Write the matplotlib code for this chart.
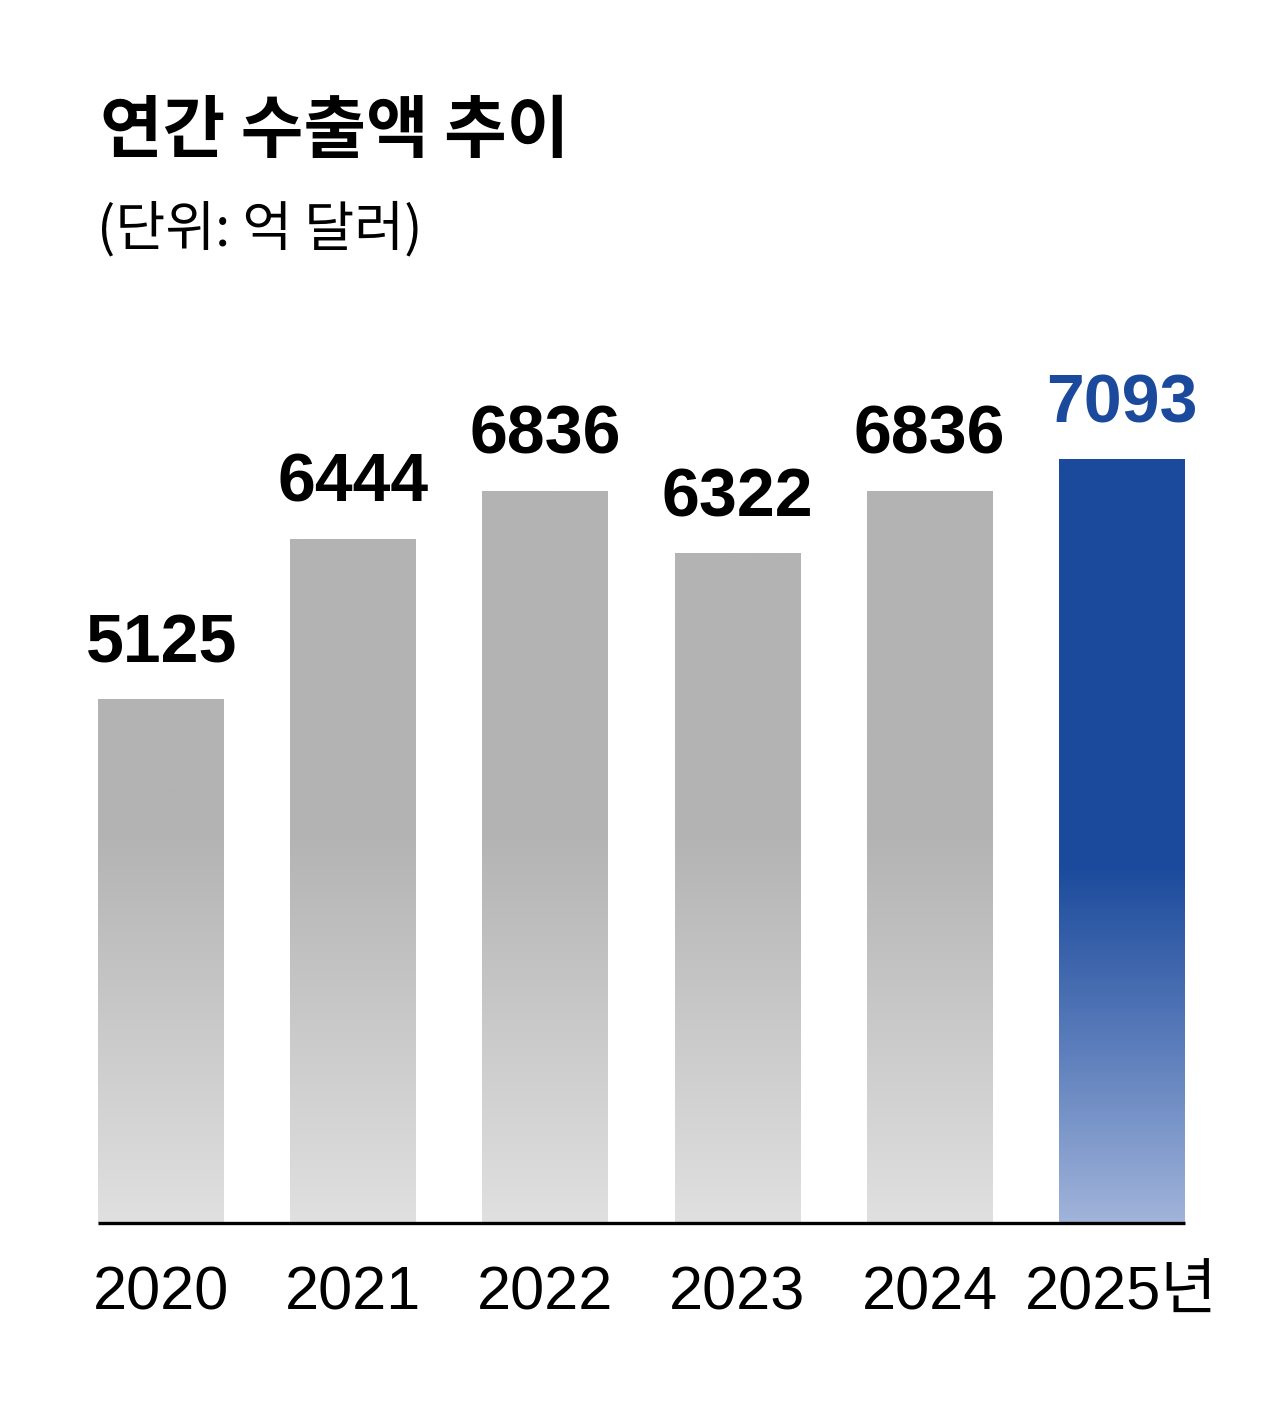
import numpy as np
import matplotlib
matplotlib.use("Agg")
import matplotlib.pyplot as plt
from matplotlib.colors import LinearSegmentedColormap

years = ["2020", "2021", "2022", "2023", "2024", "2025년"]
values = [5125, 6444, 6836, 6322, 6836, 7093]
title = "연간 수출액 추이"
subtitle = "(단위: 억 달러)"

W, H = 1276, 1417
fig = plt.figure(figsize=(W / 100, H / 100), dpi=100)
fam = ["Liberation Sans", "Noto Sans CJK KR", "DejaVu Sans"]

ax_left, ax_right = 98, 1185
ax_bottom_px, ax_top_px = 1223, 300
ax = fig.add_axes([ax_left / W, (H - ax_bottom_px) / H,
                   (ax_right - ax_left) / W, (ax_bottom_px - ax_top_px) / H])
ymin = 838
ymax = ymin + (ax_bottom_px - ax_top_px) / 0.122
ax.set_xlim(-0.33, 5.33)
ax.set_ylim(ymin, ymax)
ax.axis("off")

width = 0.656
grey_cmap = LinearSegmentedColormap.from_list("g", [(0, "#e0e0e0"), (1, "#b3b3b3")])
blue_cmap = LinearSegmentedColormap.from_list("b", [(0, "#a1b4da"), (0.5, "#5a7cba"), (1, "#1b4a9c")])
grey_mid = ymin + (1223 - 830) / 0.122
blue_mid = ymin + (1223 - 865) / 0.122

for i, (yr, v) in enumerate(zip(years, values)):
    last = i == len(values) - 1
    cmap = blue_cmap if last else grey_cmap
    mid = blue_mid if last else grey_mid
    ys = np.linspace(ymin, v, 400)
    t = np.clip((ys - ymin) / (mid - ymin), 0, 1)
    img = t[:, None]
    ax.imshow(img, extent=(i - width / 2, i + width / 2, ymin, v), origin="lower",
              cmap=cmap, vmin=0, vmax=1, aspect="auto", interpolation="bilinear", zorder=2)
    color = "#1b4a9c" if last else "black"
    ax.annotate(f"{v}", (i, v), xytext=(0, 17), textcoords="offset points",
                ha="center", va="bottom", fontsize=49, fontweight="bold",
                color=color, family=fam)

ax.set_xlim(-0.33, 5.33)
ax.set_ylim(ymin, ymax)
ax.plot([-0.33, 5.33], [ymin, ymin], color="black", lw=2.4, solid_capstyle="butt",
        zorder=3, clip_on=False)

for i, yr in enumerate(years):
    x = ax_left + (i + 0.33) / 5.66 * (ax_right - ax_left)
    fig.text(x / W, 1 - 1294 / H, yr, ha="center", va="center", fontsize=44,
             family=fam, color="black")

fig.text(100 / W, 1 - 133 / H, title, ha="left", va="center", fontsize=49,
         fontweight="bold", family=["Noto Sans CJK KR", "DejaVu Sans"])
fig.text(97 / W, 1 - 230 / H, subtitle, ha="left", va="center", fontsize=39,
         family=["Noto Sans CJK KR", "DejaVu Sans"])

fig.savefig("out.png", dpi=100, facecolor="white")
